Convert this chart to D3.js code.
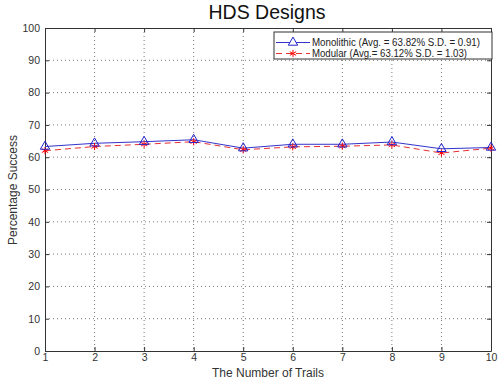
<!DOCTYPE html>
<html lang="en">
  <head>
    <meta charset="utf-8" />
    <title>HDS Designs</title>
    <script src="https://d3js.org/d3.v7.min.js"></script>
    <style>
      body {
        margin: 0;
        background-color: #ffffff;
        font-family: "Liberation Sans", Arial, sans-serif;
      }
    </style>
  </head>
  <body>
    <div id="chart"></div>
    <script>
      // data
      const trails = [1, 2, 3, 4, 5, 6, 7, 8, 9, 10];
      const monolithic = [63.3, 64.3, 64.8, 65.4, 62.8, 64.0, 64.0, 64.7, 62.6, 63.0];
      const modular = [62.0, 63.3, 64.0, 64.8, 62.3, 63.2, 63.4, 63.8, 61.3, 62.8];
      const yTicks = [0, 10, 20, 30, 40, 50, 60, 70, 80, 90, 100];
      const legendLabels = [
        "Monolithic (Avg. = 63.82% S.D. = 0.91)",
        "Modular (Avg.= 63.12% S.D. = 1.03)",
      ];

      const W = 502, H = 382;
      const margin = { top: 28, right: 11, bottom: 31, left: 45 },
        width = W - margin.left - margin.right,
        height = H - margin.top - margin.bottom;

      const root = d3.select("#chart").append("svg")
        .attr("width", W)
        .attr("height", H);

      const svg = root.append("g")
        .attr("transform", `translate(${margin.left},${margin.top})`);

      const x = d3.scaleLinear().domain([1, 10]).range([0, width]);
      const y = d3.scaleLinear().domain([0, 100]).range([height, 0]);

      // dotted grid
      svg.append("g")
        .selectAll("line")
        .data(trails.slice(1, -1))
        .join("line")
        .attr("x1", (d) => x(d)).attr("x2", (d) => x(d))
        .attr("y1", 0).attr("y2", height)
        .style("stroke", "#555")
        .style("stroke-width", 0.8)
        .style("stroke-dasharray", "1,3");

      svg.append("g")
        .selectAll("line")
        .data(yTicks.slice(1, -1))
        .join("line")
        .attr("x1", 0).attr("x2", width)
        .attr("y1", (d) => y(d)).attr("y2", (d) => y(d))
        .style("stroke", "#555")
        .style("stroke-width", 0.8)
        .style("stroke-dasharray", "1,3");

      // axes with inward ticks
      svg.append("g")
        .attr("transform", `translate(0,${height})`)
        .call(d3.axisBottom(x).tickValues(trails).tickFormat(d3.format("d"))
          .tickSizeInner(-4).tickSizeOuter(0).tickPadding(3));
      svg.append("g")
        .call(d3.axisLeft(y).tickValues(yTicks)
          .tickSizeInner(-4).tickSizeOuter(0).tickPadding(5));
      svg.append("g")
        .call(d3.axisTop(x).tickValues(trails).tickFormat("")
          .tickSizeInner(-4).tickSizeOuter(0));
      svg.append("g")
        .attr("transform", `translate(${width},0)`)
        .call(d3.axisRight(y).tickValues(yTicks).tickFormat("")
          .tickSizeInner(-4).tickSizeOuter(0));

      svg.selectAll(".domain").style("stroke", "#333");
      svg.selectAll(".tick line").style("stroke", "#333");
      svg.selectAll(".tick text")
        .style("font-family", "'Liberation Sans', Arial, sans-serif")
        .style("font-size", "10.5px")
        .style("fill", "#333");

      // lines
      const line = d3.line().x((d, i) => x(trails[i])).y((d) => y(d));

      svg.append("path")
        .datum(modular)
        .attr("d", line)
        .style("fill", "none")
        .style("stroke", "#e8302f")
        .style("stroke-width", 1)
        .style("stroke-dasharray", "6,4");

      svg.append("path")
        .datum(monolithic)
        .attr("d", line)
        .style("fill", "none")
        .style("stroke", "#3333cc")
        .style("stroke-width", 1);

      const tri = d3.symbol().type(d3.symbolTriangle).size(38);
      const star = d3.symbol().type(d3.symbolAsterisk || d3.symbolCross).size(36);

      svg.append("g")
        .selectAll("path")
        .data(modular)
        .join("path")
        .attr("transform", (d, i) => `translate(${x(trails[i])},${y(d)})`)
        .attr("d", star)
        .style("fill", "none")
        .style("stroke", "#ff0000")
        .style("stroke-width", 1);

      svg.append("g")
        .selectAll("path")
        .data(monolithic)
        .join("path")
        .attr("transform", (d, i) => `translate(${x(trails[i])},${y(d)})`)
        .attr("d", tri)
        .style("fill", "none")
        .style("stroke", "#2222cc")
        .style("stroke-width", 1);

      // legend
      const lg = root.append("g").attr("transform", "translate(274,32)");
      lg.append("rect")
        .attr("width", 218).attr("height", 27)
        .style("fill", "white")
        .style("stroke", "#333")
        .style("stroke-width", 1);

      const row1 = lg.append("g").attr("transform", "translate(0,10.5)");
      row1.append("line").attr("x1", 2).attr("x2", 36)
        .style("stroke", "#3333cc");
      row1.append("path").attr("transform", "translate(19,0)").attr("d", tri)
        .style("fill", "white").style("stroke", "#2222cc");
      row1.append("text").attr("x", 38).attr("y", 3.5)
        .attr("textLength", 168).attr("lengthAdjust", "spacingAndGlyphs")
        .text(legendLabels[0]);

      const row2 = lg.append("g").attr("transform", "translate(0,21.5)");
      row2.append("line").attr("x1", 2).attr("x2", 36)
        .style("stroke", "#e8302f").style("stroke-dasharray", "6,4");
      row2.append("path").attr("transform", "translate(19,0)").attr("d", star)
        .style("fill", "none").style("stroke", "#ff0000");
      row2.append("text").attr("x", 38).attr("y", 3.5)
        .attr("textLength", 155).attr("lengthAdjust", "spacingAndGlyphs")
        .text(legendLabels[1]);

      lg.selectAll("text")
        .style("font-size", "10px")
        .style("fill", "#222");

      // title and axis labels
      root.append("text")
        .attr("x", 267).attr("y", 19)
        .attr("text-anchor", "middle")
        .style("font-size", "19.5px")
        .style("fill", "#111")
        .text("HDS Designs");

      root.append("text")
        .attr("x", 268).attr("y", 377)
        .attr("text-anchor", "middle")
        .style("font-size", "12px")
        .style("fill", "#333")
        .text("The Number of Trails");

      root.append("text")
        .attr("transform", "translate(17,190) rotate(-90)")
        .attr("text-anchor", "middle")
        .style("font-size", "12px")
        .style("fill", "#333")
        .text("Percentage Success");
    </script>
  </body>
</html>
